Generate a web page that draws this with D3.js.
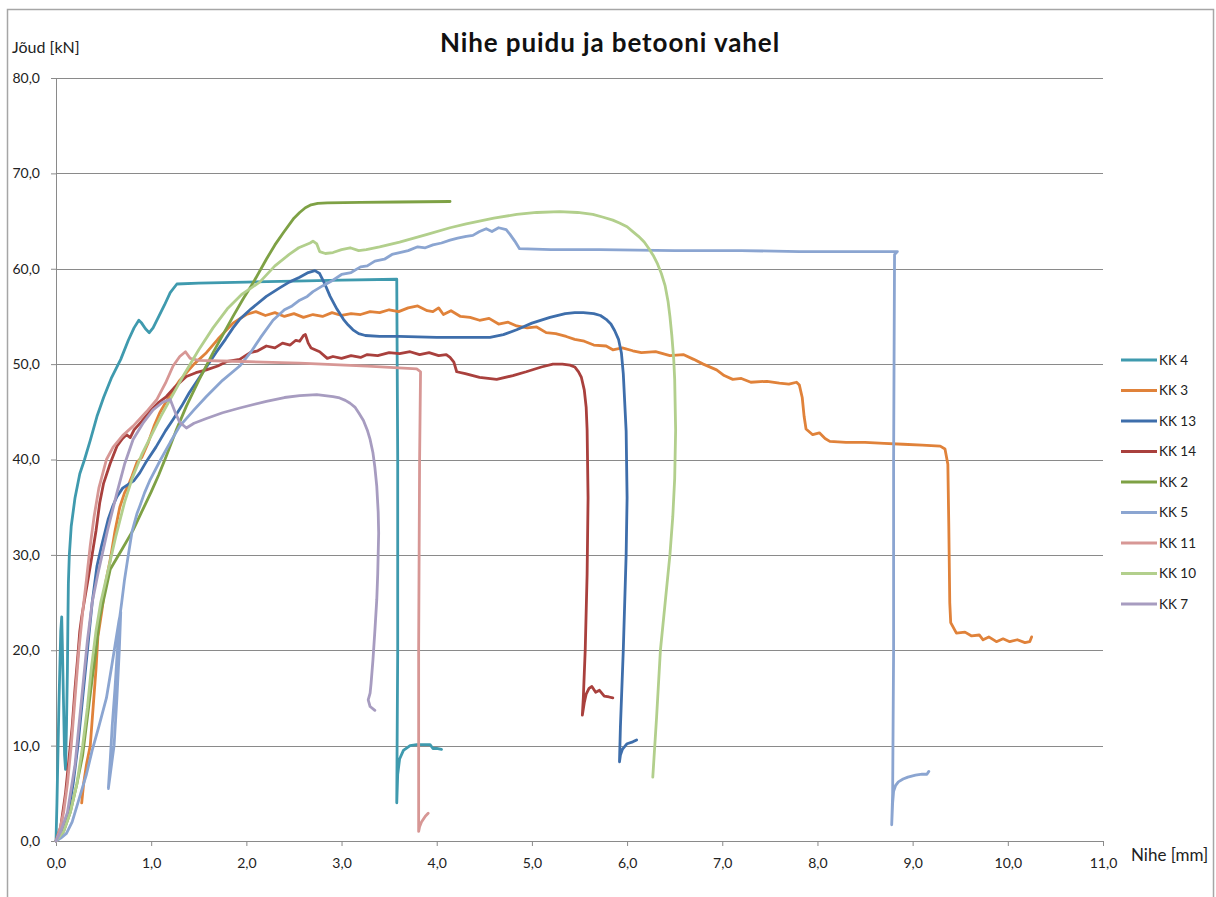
<!DOCTYPE html>
<html>
<head>
<meta charset="utf-8">
<script src="https://cdn.jsdelivr.net/npm/d3@7"></script>
<style>
  html, body { margin: 0; padding: 0; background: #fff; }
  svg { display: block; font-family: Lato, "Open Sans", sans-serif; }
</style>
</head>
<body>
<svg id="chart" width="1216" height="897"></svg>
<script>
// Shear test: force [kN] vs. slip [mm], one [slip, force] pair per reading
const kk4 = [[0,0],[0.01,4],[0.02,9],[0.03,14],[0.04,18],[0.05,22],[0.06,23.5],[0.07,19],[0.08,14],[0.09,9],[0.1,7.5],[0.11,12],[0.12,18],[0.125,23],[0.13,27],[0.14,30],[0.16,33],[0.2,36],[0.25,38.5],[0.3,40],[0.36,42],[0.43,44.5],[0.5,46.5],[0.58,48.5],[0.68,50.5],[0.76,52.5],[0.82,53.8],[0.87,54.6],[0.9,54.3],[0.94,53.7],[0.98,53.3],[1.02,53.8],[1.08,55],[1.14,56.2],[1.2,57.5],[1.27,58.4],[1.5,58.5],[2.0,58.6],[2.5,58.7],[3.0,58.8],[3.58,58.9],[3.59,40],[3.59,20],[3.58,4],[3.59,7],[3.61,8.6],[3.65,9.5],[3.72,10],[3.79,10.1],[3.88,10.1],[3.93,10.1],[3.96,9.7],[4.0,9.7],[4.05,9.6]];

const kk3 = [[0.27,4],[0.29,6],[0.32,8],[0.36,10],[0.39,14],[0.42,18],[0.44,21.4],[0.48,24],[0.52,27],[0.57,29.5],[0.62,32.5],[0.67,35],[0.72,36.5],[0.76,37.3],[0.8,38.3],[0.85,39.7],[0.9,40.2],[0.97,41.8],[1.03,43.5],[1.09,44.9],[1.2,46.8],[1.3,48.3],[1.45,50],[1.58,51.2],[1.7,52.6],[1.86,54.3],[2.0,55.2],[2.1,55.5],[2.2,55.1],[2.3,55.4],[2.4,55.0],[2.5,55.3],[2.6,54.9],[2.7,55.2],[2.8,55.0],[2.9,55.4],[3.0,55.1],[3.1,55.3],[3.2,55.2],[3.3,55.5],[3.4,55.4],[3.5,55.7],[3.6,55.5],[3.7,55.9],[3.8,56.1],[3.9,55.6],[3.96,55.5],[4.02,55.9],[4.07,55.2],[4.15,55.6],[4.25,55.0],[4.35,54.9],[4.45,54.6],[4.55,54.8],[4.65,54.2],[4.75,54.4],[4.84,54.0],[4.95,53.8],[5.05,53.9],[5.15,53.3],[5.25,53.2],[5.36,52.9],[5.45,52.6],[5.55,52.4],[5.65,52.0],[5.78,51.9],[5.85,51.5],[5.95,51.7],[6.06,51.4],[6.15,51.2],[6.3,51.3],[6.45,50.9],[6.59,51.0],[6.7,50.5],[6.8,50],[6.94,49.4],[7.02,48.8],[7.11,48.4],[7.2,48.5],[7.3,48.1],[7.47,48.2],[7.6,48.0],[7.7,47.9],[7.78,48.1],[7.81,47.8],[7.84,46.5],[7.86,44.5],[7.88,43.2],[7.95,42.6],[8.02,42.8],[8.08,42.2],[8.13,41.9],[8.3,41.8],[8.5,41.8],[8.7,41.7],[8.9,41.6],[9.1,41.5],[9.29,41.4],[9.34,41.1],[9.37,39.5],[9.38,33],[9.39,25],[9.4,22.9],[9.46,21.8],[9.55,21.9],[9.62,21.5],[9.7,21.6],[9.74,21.1],[9.8,21.4],[9.88,20.9],[9.95,21.2],[10.02,20.9],[10.1,21.1],[10.18,20.8],[10.23,20.9],[10.25,21.4]];

const kk13 = [[0,0],[0.06,0.8],[0.12,2.5],[0.18,6],[0.23,10],[0.28,15],[0.33,20],[0.38,25],[0.43,28.8],[0.48,31],[0.55,33.8],[0.6,35.2],[0.64,36.1],[0.7,37],[0.76,37.4],[0.82,37.8],[0.88,38.6],[0.95,39.8],[1.05,41.3],[1.15,43],[1.23,44.2],[1.32,45.6],[1.4,47],[1.5,48.5],[1.58,49.7],[1.68,51.2],[1.78,52.6],[1.86,53.8],[1.93,54.7],[2.05,55.8],[2.21,57.1],[2.35,58],[2.45,58.6],[2.56,59.1],[2.65,59.6],[2.72,59.8],[2.77,59.5],[2.82,58.5],[2.88,57.1],[2.95,55.8],[3.02,54.7],[3.07,54.1],[3.12,53.6],[3.18,53.2],[3.25,53.0],[3.4,52.9],[3.6,52.9],[4.0,52.8],[4.3,52.8],[4.56,52.8],[4.7,53.1],[4.84,53.6],[5.0,54.3],[5.19,54.9],[5.35,55.3],[5.45,55.4],[5.54,55.4],[5.65,55.3],[5.72,55.1],[5.78,54.7],[5.83,54.2],[5.87,53.5],[5.91,52.6],[5.94,51.2],[5.96,49],[5.97,47],[5.99,43],[6.0,36],[5.99,30],[5.96,20],[5.93,12],[5.92,8.3],[5.93,9],[5.95,9.6],[6.0,10.2],[6.06,10.4],[6.1,10.6]];

const kk14 = [[0,0],[0.05,1.5],[0.1,5],[0.13,8],[0.17,12],[0.2,16],[0.23,19.5],[0.25,22],[0.27,23.5],[0.3,25.3],[0.36,28.8],[0.42,32.5],[0.46,35.5],[0.5,37.5],[0.57,39.6],[0.64,41.4],[0.7,42.2],[0.74,42.6],[0.78,42.3],[0.82,43.1],[0.9,44],[1.0,45.2],[1.08,46],[1.16,46.6],[1.25,47.6],[1.37,48.7],[1.47,49.1],[1.58,49.4],[1.7,49.8],[1.8,50.3],[1.93,50.5],[2.04,51.2],[2.12,51.4],[2.21,51.9],[2.3,51.7],[2.38,52.2],[2.46,52.0],[2.52,52.5],[2.56,52.4],[2.6,53.0],[2.62,53.1],[2.65,52.2],[2.68,51.7],[2.77,51.3],[2.85,50.6],[2.91,50.8],[3.0,50.6],[3.1,50.9],[3.2,50.7],[3.27,51.0],[3.38,50.9],[3.5,51.2],[3.61,51.1],[3.72,51.3],[3.82,51.0],[3.92,51.2],[4.02,50.9],[4.1,51.0],[4.14,50.7],[4.18,50.2],[4.21,49.2],[4.3,49.0],[4.45,48.6],[4.63,48.4],[4.8,48.8],[4.94,49.2],[5.1,49.7],[5.22,50.0],[5.32,50.0],[5.4,49.9],[5.45,49.7],[5.49,49.2],[5.52,48.6],[5.55,47.3],[5.57,45.5],[5.58,43.1],[5.59,36],[5.58,28],[5.56,20],[5.54,15],[5.53,13.2],[5.55,14.5],[5.57,15.4],[5.6,16.0],[5.63,16.2],[5.67,15.6],[5.71,15.8],[5.76,15.2],[5.81,15.1],[5.85,15.0]];

const kk2 = [[0,0],[0.08,1],[0.15,3],[0.22,6],[0.28,9],[0.33,13],[0.38,17],[0.42,20],[0.46,23.5],[0.52,26.2],[0.57,28.5],[0.7,30.7],[0.81,32.6],[0.9,34.5],[1.0,36.6],[1.08,38.4],[1.16,40.4],[1.26,43],[1.37,45.6],[1.5,48.3],[1.65,51.2],[1.76,53.2],[1.86,55],[1.97,56.9],[2.07,58.5],[2.21,61],[2.3,62.5],[2.39,63.8],[2.5,65.3],[2.56,65.9],[2.62,66.4],[2.68,66.7],[2.75,66.85],[2.85,66.9],[3.2,66.95],[3.6,67.0],[4.14,67.05]];

const kk5 = [[0,0],[0.05,0.3],[0.11,0.8],[0.17,2],[0.23,4],[0.32,7],[0.38,9.5],[0.45,12],[0.53,15],[0.58,18],[0.62,20.5],[0.66,23],[0.68,24],[0.665,20],[0.64,15],[0.61,10],[0.57,7],[0.55,5.5],[0.57,8.5],[0.59,12],[0.62,16],[0.645,20],[0.67,23.5],[0.69,25],[0.72,27.4],[0.76,30],[0.8,32.5],[0.85,34.3],[0.88,35.1],[0.93,36.5],[0.99,37.9],[1.1,40],[1.2,41.8],[1.3,43.5],[1.45,45.2],[1.58,46.6],[1.75,48.3],[1.93,49.8],[2.05,51.3],[2.15,52.8],[2.28,54.6],[2.4,55.7],[2.48,56.1],[2.56,56.7],[2.64,57.1],[2.7,57.6],[2.8,58.2],[2.91,58.8],[3.0,59.4],[3.1,59.6],[3.2,60.2],[3.27,60.3],[3.35,60.8],[3.45,61.0],[3.53,61.5],[3.61,61.7],[3.7,61.9],[3.8,62.3],[3.88,62.2],[3.96,62.5],[4.05,62.7],[4.14,63.0],[4.22,63.2],[4.31,63.4],[4.38,63.5],[4.45,63.9],[4.52,64.2],[4.58,63.9],[4.65,64.3],[4.73,64.1],[4.77,63.6],[4.82,62.9],[4.87,62.1],[5.2,62.0],[5.71,62.0],[6.5,61.9],[7.2,61.9],[7.81,61.8],[8.5,61.8],[8.84,61.8],[8.81,61.5],[8.8,40],[8.8,20],[8.79,5],[8.78,1.7],[8.79,4],[8.8,5.2],[8.82,5.8],[8.85,6.2],[8.9,6.5],[8.95,6.7],[9.03,6.9],[9.1,7.0],[9.15,7.0],[9.17,7.3]];

const kk11 = [[0,0],[0.04,1.2],[0.08,3],[0.12,6],[0.16,10],[0.2,15],[0.24,20],[0.28,24],[0.32,27.4],[0.36,31],[0.4,34],[0.45,37],[0.53,40],[0.6,41.3],[0.7,42.5],[0.81,43.5],[0.95,45],[1.06,46.3],[1.15,48],[1.23,49.8],[1.3,50.8],[1.36,51.3],[1.41,50.6],[1.5,50.4],[1.86,50.3],[2.56,50.1],[3.27,49.8],[3.79,49.5],[3.83,49.2],[3.82,40],[3.81,20],[3.81,5],[3.81,1],[3.82,1.5],[3.84,2],[3.88,2.6],[3.91,2.9]];

const kk10 = [[0,0],[0.08,1],[0.15,3],[0.22,6],[0.28,10],[0.33,14],[0.37,18],[0.42,22],[0.47,25],[0.55,28.5],[0.63,32],[0.72,35.5],[0.8,38],[0.9,40.5],[1.0,42.5],[1.1,44.5],[1.2,46.3],[1.35,49],[1.5,51.5],[1.65,53.8],[1.8,55.8],[1.95,57.3],[2.14,58.6],[2.3,60.3],[2.45,61.5],[2.55,62.2],[2.67,62.7],[2.7,62.9],[2.74,62.6],[2.77,61.8],[2.83,61.6],[2.91,61.7],[3.0,62.0],[3.09,62.2],[3.18,61.9],[3.26,62.0],[3.4,62.3],[3.61,62.8],[3.9,63.6],[4.14,64.3],[4.31,64.7],[4.6,65.3],[4.84,65.7],[5.05,65.9],[5.29,66.0],[5.48,65.9],[5.64,65.7],[5.75,65.4],[5.85,65.1],[5.92,64.8],[6.0,64.4],[6.06,63.9],[6.12,63.4],[6.18,62.8],[6.23,62.1],[6.28,61.3],[6.32,60.5],[6.36,59.5],[6.4,58.2],[6.43,56.6],[6.45,55.0],[6.47,53],[6.49,50.5],[6.5,48.4],[6.51,43.1],[6.5,38],[6.48,34],[6.45,30],[6.4,25],[6.35,20],[6.31,13],[6.27,6.7]];

const kk7 = [[0,0],[0.05,1],[0.12,3],[0.2,8],[0.27,15],[0.33,21],[0.38,25],[0.44,28],[0.54,32.5],[0.64,36.5],[0.72,39.5],[0.81,42.1],[0.92,43.9],[1.02,45.2],[1.12,46],[1.2,46.3],[1.25,45],[1.3,43.9],[1.37,43.3],[1.45,43.8],[1.58,44.3],[1.75,44.9],[1.93,45.4],[2.21,46.1],[2.4,46.5],[2.56,46.7],[2.74,46.8],[2.91,46.6],[2.98,46.45],[3.04,46.2],[3.09,45.9],[3.14,45.5],[3.18,44.9],[3.23,44.1],[3.27,43.1],[3.3,42.1],[3.33,40.7],[3.35,39.2],[3.37,37.2],[3.385,34.5],[3.39,32.3],[3.38,28],[3.37,25.3],[3.35,22],[3.33,19],[3.31,16.5],[3.3,15.5],[3.28,14.8],[3.3,14.1],[3.35,13.7]];

const seriesNames  = ["KK 4", "KK 3", "KK 13", "KK 14", "KK 2", "KK 5", "KK 11", "KK 10", "KK 7"];
const seriesValues = [kk4, kk3, kk13, kk14, kk2, kk5, kk11, kk10, kk7];
const seriesColors = ["#3f9aae", "#e0823a", "#3e6eab", "#a9403d", "#7ea145", "#8ba5d1", "#d79795", "#b2cf8c", "#a79cc0"];

const xTicks = d3.range(0, 11.001, 1);
const yTicks = d3.range(0, 80.001, 10);
const fmt = v => d3.format(".1f")(v).replace(".", ",");

const svg = d3.select("#chart");
const x = d3.scaleLinear().domain([0, 11]).range([56, 1103]);
const y = d3.scaleLinear().domain([0, 80]).range([841, 78]);

// outer chart frame
svg.append("rect")
  .attr("x", 7.5).attr("y", 9.5).attr("width", 1206).attr("height", 900)
  .attr("fill", "#fff").attr("stroke", "#a6a6a6").attr("stroke-width", 1.5);

// horizontal gridlines
svg.append("g").selectAll("line").data(yTicks.slice(1)).join("line")
  .attr("x1", x(0)).attr("x2", x(11))
  .attr("y1", d => Math.round(y(d)) + 0.5).attr("y2", d => Math.round(y(d)) + 0.5)
  .attr("stroke", "#8a8a8a").attr("stroke-width", 1);

// axes
const gy = svg.append("g").attr("transform", `translate(${x(0)},0)`)
  .call(d3.axisLeft(y).tickValues(yTicks).tickFormat(fmt).tickSize(5).tickPadding(11));
const gx = svg.append("g").attr("transform", `translate(0,${y(0)})`)
  .call(d3.axisBottom(x).tickValues(xTicks).tickFormat(fmt).tickSize(5).tickPadding(12));
[gx, gy].forEach(g => {
  g.select(".domain").attr("stroke", "#8a8a8a");
  g.selectAll(".tick line").attr("stroke", "#8a8a8a");
  g.selectAll(".tick text").attr("fill", "#222").style("font-size", "14px")
    .style("font-family", "Lato, 'Open Sans', sans-serif");
});

// data lines
const line = d3.line()
  .x(d => x(d[0])).y(d => y(d[1]));

svg.append("g").selectAll("path").data(seriesValues).join("path")
  .attr("d", line)
  .attr("fill", "none")
  .attr("stroke", (d, i) => seriesColors[i])
  .attr("stroke-width", 2.8)
  .attr("stroke-linejoin", "round")
  .attr("stroke-linecap", "round");

// titles
svg.append("text").attr("x", 610).attr("y", 52).attr("text-anchor", "middle")
  .style("font-size", "26px").style("font-weight", "bold").style("letter-spacing", "0.9px")
  .attr("fill", "#111")
  .text("Nihe puidu ja betooni vahel");
svg.append("text").attr("x", 12).attr("y", 53)
  .style("font-size", "16px").attr("fill", "#222").text("Jõud [kN]");
svg.append("text").attr("x", 1131).attr("y", 861)
  .style("font-size", "17px").attr("fill", "#222").text("Nihe [mm]");

// legend
const legend = svg.append("g").selectAll("g").data(seriesNames).join("g")
  .attr("transform", (d, i) => `translate(1121,${360 + i * 30.5})`);
legend.append("line").attr("x1", 0).attr("x2", 36).attr("y1", 0).attr("y2", 0)
  .attr("stroke", (d, i) => seriesColors[i]).attr("stroke-width", 3);
legend.append("text").attr("x", 38).attr("y", 0).attr("dy", "0.35em")
  .style("font-size", "13.5px").attr("fill", "#222").text(d => d);
</script>
</body>
</html>
